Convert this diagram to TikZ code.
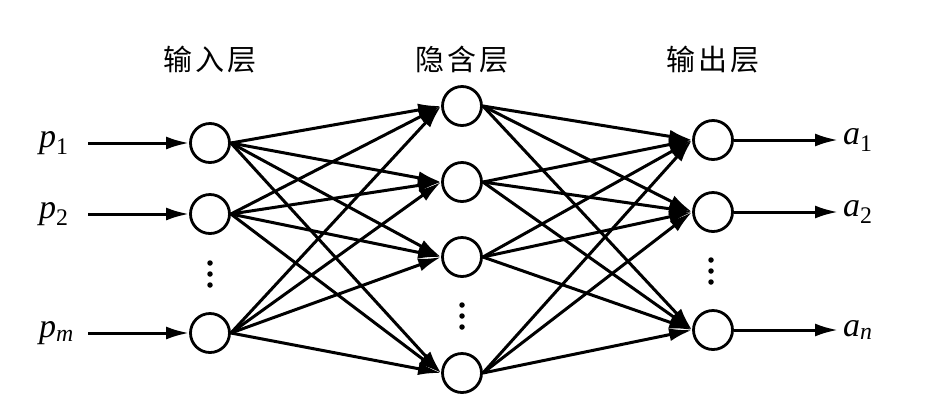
\documentclass[tikz,border=0pt]{standalone}
\usepackage{fontspec}
\usepackage{amsmath}
\setmainfont{Liberation Serif}
\newfontfamily\cjk{Noto Sans CJK SC}
\usetikzlibrary{arrows.meta}
\tikzset{
  neuron/.style={circle,draw,line width=2.8pt,minimum size=39pt,inner sep=0pt,fill=white},
  conn/.style={line width=3pt,-{Latex[length=23pt,width=13pt]}},
  title/.style={font=\cjk\fontsize{29}{32}\selectfont},
  lab/.style={font=\fontsize{34}{36}\selectfont,anchor=west,inner sep=0pt},
  dot/.style={circle,fill,inner sep=0pt,minimum size=5.5pt}
}
\begin{document}
\begin{tikzpicture}[x=1pt,y=-1pt]
\useasboundingbox (0,0) rectangle (936,408);
% titles
\node[title] (t1) at (210,60) {输\hspace{3pt}入\hspace{3pt}层};
\node[title] (t2) at (462,60) {隐\hspace{3pt}含\hspace{3pt}层};
\node[title] (t3) at (713,60) {输\hspace{3pt}出\hspace{3pt}层};
% input layer
\node[neuron] (i1) at (210,143) {};
\node[neuron] (i2) at (210,214) {};
\node[neuron] (i3) at (210,333) {};
\node[dot] (id1) at (210,263) {};
\node[dot] (id2) at (210,274) {};
\node[dot] (id3) at (210,285) {};
% hidden layer
\node[neuron] (h1) at (462,106) {};
\node[neuron] (h2) at (462,182) {};
\node[neuron] (h3) at (462,257) {};
\node[neuron] (h4) at (462,373) {};
\node[dot] (hd1) at (462,305) {};
\node[dot] (hd2) at (462,316) {};
\node[dot] (hd3) at (462,327) {};
% output layer
\node[neuron] (o1) at (713,140) {};
\node[neuron] (o2) at (713,212) {};
\node[neuron] (o3) at (713,330) {};
\node[dot] (od1) at (711,260) {};
\node[dot] (od2) at (711,271) {};
\node[dot] (od3) at (711,282) {};
% input labels
\node[lab] (p1) at (39,143) {\textit{p}$_{\text{1}}$};
\node[lab] (p2) at (39,214) {\textit{p}$_{\text{2}}$};
\node[lab] (pm) at (39,333) {\textit{p}$_{\textit{m}}$};
\coordinate (s1) at (88,143);
\coordinate (s2) at (88,214);
\coordinate (s3) at (88,333);
\draw[conn] (s1) -- (i1.west);
\draw[conn] (s2) -- (i2.west);
\draw[conn] (s3) -- (i3.west);
% output labels
\coordinate (e1) at (838,140);
\coordinate (e2) at (838,212);
\coordinate (e3) at (838,330);
\node[lab] (a1) at (843,140) {\textit{a}$_{\text{1}}$};
\node[lab] (a2) at (843,212) {\textit{a}$_{\text{2}}$};
\node[lab] (an) at (843,330) {\textit{a}$_{\textit{n}}$};
\draw[conn] (o1.east) -- (e1);
\draw[conn] (o2.east) -- (e2);
\draw[conn] (o3.east) -- (e3);
% connections
\foreach \i in {i1,i2,i3}
  \foreach \h in {h1,h2,h3,h4}
    \draw[conn] (\i.east) -- (\h.west);
\foreach \h in {h1,h2,h3,h4}
  \foreach \o in {o1,o2,o3}
    \draw[conn] (\h.east) -- (\o.west);
\end{tikzpicture}
\end{document}
